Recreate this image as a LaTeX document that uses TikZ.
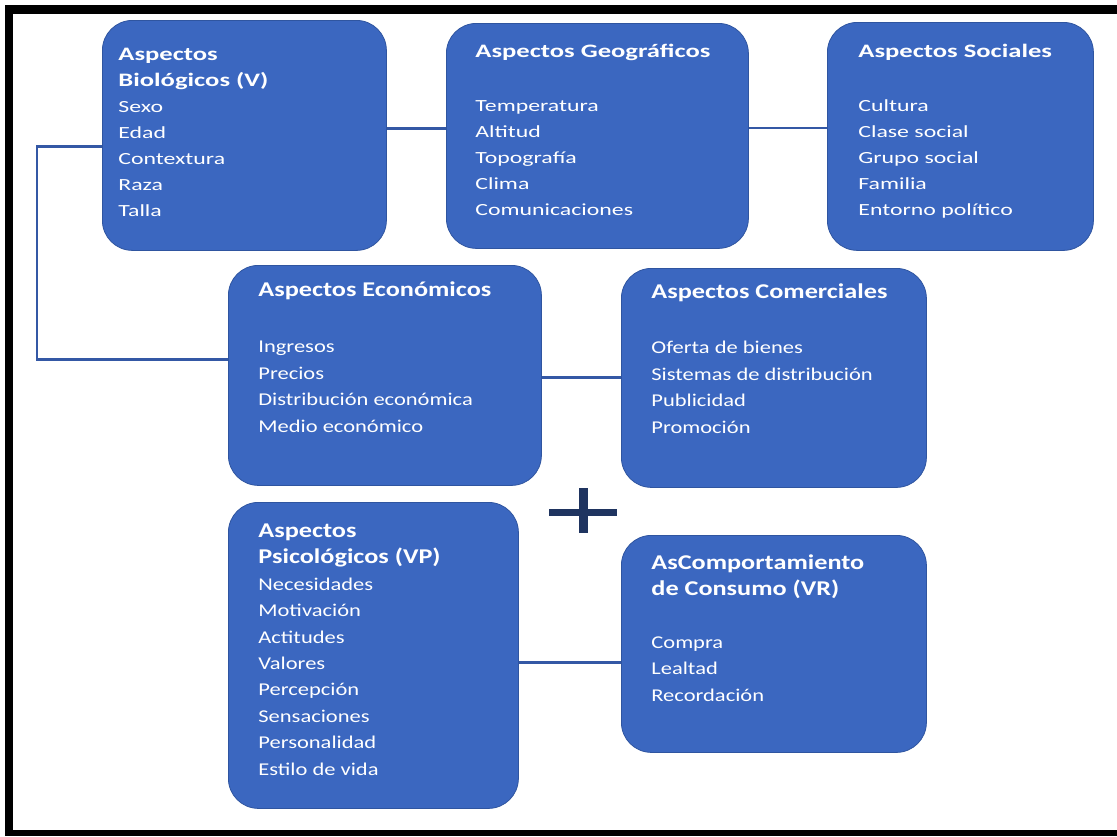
\documentclass[tikz,border=0pt]{standalone}
\usepackage{fontspec}
\setmainfont{Carlito}
\newfontfamily\anchafont[FakeStretch=1.4]{Carlito}
\newfontfamily\bajafont[FakeStretch=1.25]{Carlito}
\definecolor{cajaazul}{RGB}{59,103,192}
\definecolor{bordeazul}{RGB}{47,85,160}
\definecolor{lineaazul}{RGB}{52,88,165}
\definecolor{masazul}{RGB}{31,52,96}
\tikzset{
	aspecto/.style={draw=bordeazul, fill=cajaazul, line width=0.8pt, rounded corners=30pt, inner xsep=30pt, inner ysep=0pt, anchor=north west, text=white},
	fila/.style={font=\anchafont\fontsize{17}{26}\selectfont},
	baja/.style={font=\bajafont\fontsize{18}{26.4}\selectfont},
	enlace/.style={draw=lineaazul, line width=2.2pt},
}
% ancho, alto, primera linea base, texto
\newcommand{\caja}[4]{\parbox[c][#2][t]{#1}{\vspace*{\dimexpr#3-15pt\relax}\rule{0pt}{15pt}#4}}
\newcommand{\tituloalto}{\bfseries\fontsize{19}{26}\selectfont}
\newcommand{\titulobajo}{\bfseries\fontsize{21}{26.4}\selectfont}

\begin{document}
\begin{tikzpicture}[x=1pt, y=-1pt]
			%%%%% START %%%%%
			\useasboundingbox (0,0) rectangle (1117,836);
			\fill[white] (0,0) rectangle (1117,836);
			
			% marco negro
			\fill[black] (5,5) rectangle (1117,14);
			\fill[black] (5,5) rectangle (13,836);
			\fill[black] (5,830) rectangle (1117,836);
			
			% fila de arriba
			\node[aspecto, fila, inner xsep=16pt] (biologicos) at (102,20)
				{\caja{252pt}{230pt}{40pt}{{\tituloalto Aspectos\\Biológicos (V)}\\Sexo\\Edad\\Contextura\\Raza\\Talla}};
			\node[aspecto, fila, inner xsep=29pt] (geograficos) at (446,23)
				{\caja{244pt}{225pt}{34pt}{{\tituloalto Aspectos Geográficos}\\[28pt]Temperatura\\Altitud\\Topografía\\Clima\\Comunicaciones}};
			\node[aspecto, fila, inner xsep=31pt] (sociales) at (827,22)
				{\caja{204pt}{228pt}{35pt}{{\tituloalto Aspectos Sociales}\\[28pt]Cultura\\Clase social\\Grupo social\\Familia\\Entorno político}};
			
			% fila del medio
			\node[aspecto, baja] (economicos) at (228,265)
				{\caja{253pt}{220pt}{31pt}{{\titulobajo Aspectos Económicos}\\[30pt]Ingresos\\Precios\\Distribución económica\\Medio económico}};
			\node[aspecto, baja] (comerciales) at (621,268)
				{\caja{245pt}{219pt}{30pt}{{\titulobajo Aspectos Comerciales}\\[29pt]Oferta de bienes\\Sistemas de distribución\\Publicidad\\Promoción}};
			
			% fila de abajo
			\node[aspecto, baja] (psicologicos) at (228,502)
				{\caja{230pt}{306pt}{35pt}{{\titulobajo Aspectos\\Psicológicos (VP)}\\Necesidades\\Motivación\\Actitudes\\Valores\\Percepción\\Sensaciones\\Personalidad\\Estilo de vida}};
			\node[aspecto, baja] (comportamiento) at (621,535)
				{\caja{245pt}{217pt}{34pt}{{\titulobajo AsComportamiento\\de Consumo (VR)}\\[26pt]Compra\\Lealtad\\Recordación}};
			
			% enlaces
			\draw[enlace] ([yshift=7pt]biologicos.east) -- ([yshift=7pt]biologicos.east -| geograficos.west);
			\draw[enlace] ([yshift=8pt]geograficos.east) -- ([yshift=8pt]geograficos.east -| sociales.west);
			\draw[enlace] ([yshift=-11pt]biologicos.west) -- ++(-65,0) |- ([yshift=16pt]economicos.west);
			\draw[enlace] ([yshift=-2pt]economicos.east) -- ([yshift=-2pt]economicos.east -| comerciales.west);
			\draw[enlace] ([yshift=-7pt]psicologicos.east) -- ([yshift=-7pt]psicologicos.east -| comportamiento.west);
			
			% signo mas
			\draw[masazul, line width=7pt] (549,512) -- (617,512);
			\draw[masazul, line width=9pt] (583,488) -- (583,533);
			%%%%% END %%%%%
\end{tikzpicture}
\end{document}
